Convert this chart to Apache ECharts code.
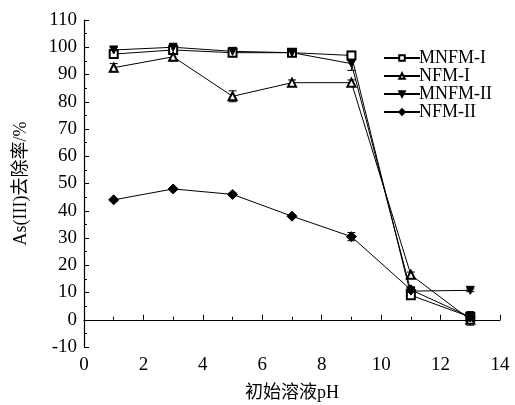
<!DOCTYPE html>
<html>
<head>
<meta charset="utf-8">
<script src="https://cdn.jsdelivr.net/npm/echarts@6/dist/echarts.min.js"></script>
<style>
  html, body { margin: 0; padding: 0; background: #fff; }
  #chart { width: 515px; height: 405px; }
</style>
</head>
<body>
<div id="chart"></div>
<script>
// 初始pH
const phValues = [1, 3, 5, 7, 9, 11, 13];

// 去除率 (%)
const mnfm1 = [97.5, 99, 98, 98, 97, 9, 1];
const nfm1 = [92.5, 96.5, 82, 87, 87, 16.5, 0];
const mnfm2 = [99, 100, 98.5, 98, 94, 10.5, 10.8];
const nfm2 = [44, 48, 46, 38, 30.5, 11, 1];

// 误差
const mnfm1Err = [1.5, 1, 0.5, 1, 1.5, 1.5, 2];
const nfm1Err = [1.5, 1.5, 2, 1, 1, 1, 2];
const mnfm2Err = [1, 1, 1, 1, 2.5, 1.5, 0.5];
const nfm2Err = [0.5, 0.5, 0.5, 0.5, 1.5, 1, 1.5];

const fontFamily = '"Liberation Serif", "Noto Sans CJK SC", serif';

const lineSeries = (name, values, symbol, rotate) => ({
  name: name,
  type: 'line',
  data: phValues.map((x, i) => [x, values[i]]),
  symbol: symbol,
  symbolSize: symbol === 'diamond' ? 10 : 8,
  symbolRotate: rotate || 0,
  lineStyle: { color: '#000', width: 1 },
  itemStyle: { color: '#000', borderColor: '#000', borderWidth: 1 },
  z: 3
});

// 误差棒
const errorSeries = (values, errs) => ({
  type: 'custom',
  silent: true,
  z: 2,
  data: phValues.map((x, i) => [x, values[i] - errs[i], values[i] + errs[i]]),
  renderItem: (params, api) => {
    const lo = api.coord([api.value(0), api.value(1)]);
    const hi = api.coord([api.value(0), api.value(2)]);
    const cap = 4;
    const style = { stroke: '#000', lineWidth: 1 };
    return {
      type: 'group',
      children: [
        { type: 'line', shape: { x1: lo[0], y1: lo[1], x2: hi[0], y2: hi[1] }, style: style },
        { type: 'line', shape: { x1: lo[0] - cap, y1: lo[1], x2: lo[0] + cap, y2: lo[1] }, style: style },
        { type: 'line', shape: { x1: hi[0] - cap, y1: hi[1], x2: hi[0] + cap, y2: hi[1] }, style: style }
      ]
    };
  }
});

const chart = echarts.init(document.getElementById('chart'));

const option = {
  backgroundColor: '#fff',
  animation: false,
  textStyle: { fontFamily: fontFamily, color: '#000' },
  grid: { left: 84, right: 15, top: 20, bottom: 58, outerBoundsMode: 'none' },
  legend: {
    orient: 'vertical',
    left: 378,
    top: 44,
    itemWidth: 36,
    itemHeight: 7,
    itemGap: 0,
    textStyle: { fontFamily: fontFamily, fontSize: 18, color: '#000', padding: [0, 0, 0, -6] },
    data: ['MNFM-I', 'NFM-I', 'MNFM-II', 'NFM-II']
  },
  xAxis: {
    type: 'value',
    min: 0,
    max: 14,
    interval: 2,
    name: '初始溶液pH',
    nameLocation: 'middle',
    nameGap: 37,
    nameTextStyle: { fontFamily: fontFamily, fontSize: 18, color: '#000' },
    axisLine: { lineStyle: { color: '#000', width: 1.2 } },
    axisTick: { inside: true, length: 5, lineStyle: { color: '#000' } },
    minorTick: { show: true, splitNumber: 2, length: 3, lineStyle: { color: '#000' } },
    axisLabel: { fontFamily: fontFamily, fontSize: 19, color: '#000', margin: 9 },
    splitLine: { show: false }
  },
  yAxis: {
    type: 'value',
    min: -10,
    max: 110,
    interval: 10,
    name: 'As(III)去除率/%',
    nameLocation: 'middle',
    nameGap: 54,
    nameTextStyle: { fontFamily: fontFamily, fontSize: 18, color: '#000' },
    axisLine: { show: true, lineStyle: { color: '#000', width: 1.2 } },
    axisTick: { show: true, inside: true, length: 5, lineStyle: { color: '#000' } },
    minorTick: { show: true, splitNumber: 2, length: 3, lineStyle: { color: '#000' } },
    axisLabel: { fontFamily: fontFamily, fontSize: 19, color: '#000', margin: 7 },
    splitLine: { show: false }
  },
  series: [
    errorSeries(mnfm1, mnfm1Err),
    errorSeries(nfm1, nfm1Err),
    errorSeries(mnfm2, mnfm2Err),
    errorSeries(nfm2, nfm2Err),
    lineSeries('MNFM-I', mnfm1, 'emptyRect'),
    lineSeries('NFM-I', nfm1, 'emptyTriangle'),
    lineSeries('MNFM-II', mnfm2, 'triangle', 180),
    lineSeries('NFM-II', nfm2, 'diamond')
  ]
};

chart.setOption(option);
</script>
</body>
</html>
